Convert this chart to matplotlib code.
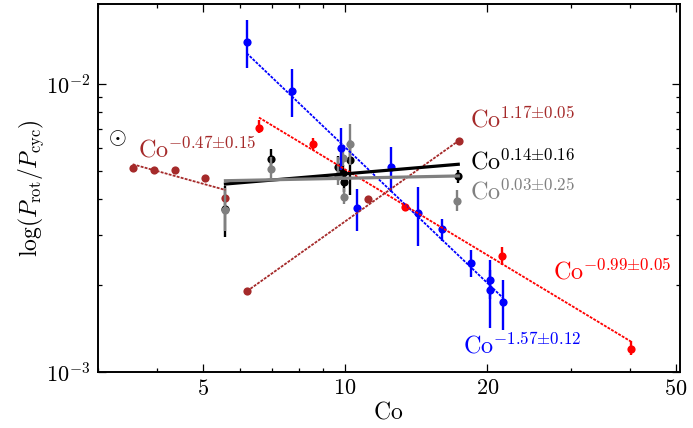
import matplotlib
matplotlib.use("Agg")
import matplotlib.pyplot as plt
from matplotlib.ticker import FixedLocator, FixedFormatter, LogLocator, NullFormatter

plt.rcParams['mathtext.fontset'] = 'cm'
plt.rcParams['font.family'] = ['cmr10', 'DejaVu Sans']
plt.rcParams['axes.formatter.use_mathtext'] = True

blue_x = [6.2, 7.71, 9.79, 10.59, 12.49, 14.25, 16.0, 18.45, 20.2, 20.25, 21.56]
blue_y = [.0140, .00946, .00600, .00371, .00515, .00357, .00314, .00239, .00209, .00193, .00175]
blue_hi = [.01668, .01127, .00703, .00432, .00604, .00439, .0034, .00265, .00245, .00226, .00209]
blue_lo = [.01136, .00768, .00503, .00309, .00422, .00274, .00285, .00214, .00179, .00142, .0014]
blue_fit_x = [6.2, 21.56]
blue_fit_y = [.01281, .00181]

red_x = [6.58, 8.54, 13.37, 21.5, 40.3]
red_y = [.00707, .00618, .00375, .00252, .0012]
red_hi = [.0075, .00649, .00384, .00272, .00128]
red_lo = [.00676, .0059, .00366, .00235, .00115]
red_fit_x = [6.58, 40.2]
red_fit_y = [.00766, .001276]

brown_x = [3.56, 3.94, 4.37, 5.06, 5.59, 6.21, 11.18, 17.4]
brown_y = [.0051, .00502, .00502, .00471, .00401, .00191, .00398, .00637]
brown1_fit_x = [3.56, 5.59]
brown1_fit_y = [.00527, .00429]
brown2_fit_x = [6.21, 17.4]
brown2_fit_y = [.00191, .00637]

black_x = [5.59, 6.97, 9.65, 9.89, 9.95, 10.25, 17.3]
black_y = [.00368, .00548, .00514, .00492, .00456, .00545, .00478]
black_hi = [.00442, .00595, .00562, .00523, .00503, .00639, .00503]
black_lo = [.00295, .00503, .00464, .0046, .00422, .00412, .00453]
black_fit_x = [5.59, 17.35]
black_fit_y = [.0045, .00527]

gray_x = [5.59, 6.97, 9.65, 9.89, 9.95, 10.23, 17.27]
gray_y = [.00367, .00506, .00479, .00553, .00404, .00622, .00393]
gray_hi = [.00435, .00558, .00558, .0059, .00435, .00726, .00429]
gray_lo = [.00309, .00472, .00446, .00519, .00383, .00523, .00362]
gray_fit_x = [5.59, 17.35]
gray_fit_y = [.00462, .0048]

x_major = [5, 10, 20, 50]
x_labels = ['$5$', '$10$', '$20$', '$50$']
x_minor = [3, 4, 6, 7, 8, 9, 30, 40]

fig = plt.figure(figsize=(6.93, 4.28), dpi=100)
ax = fig.add_axes([97.5/693, 1-372/428, 582/693, 368/428])
ax.set_xscale('log')
ax.set_yscale('log')
ax.set_xlim(3.0, 50.9)
ax.set_ylim(1e-3, 0.0190)


def errs(y, lo, hi):
    return [[a-b for a, b in zip(y, lo)], [b-a for a, b in zip(y, hi)]]


MS = 5.9


def pts(x, y, lo, hi, color, z):
    ax.errorbar(x, y, yerr=errs(y, lo, hi), fmt='o', color=color, ms=MS, mew=0,
                elinewidth=1.7, capsize=0, zorder=z)


DASH = (0, (1.6, 0.7))
pts(black_x, black_y, black_lo, black_hi, 'black', 3)
pts(gray_x, gray_y, gray_lo, gray_hi, 'gray', 3.2)
pts(red_x, red_y, red_lo, red_hi, 'red', 3.4)
ax.plot(brown_x, brown_y, 'o', color='brown', ms=MS, mew=0, zorder=3.1)
pts(blue_x, blue_y, blue_lo, blue_hi, 'blue', 3.6)

ax.plot(blue_fit_x, blue_fit_y, color='blue', lw=1.3, ls=DASH, zorder=4)
ax.plot(red_fit_x, red_fit_y, color='red', lw=1.3, ls=DASH, zorder=4)
ax.plot(brown1_fit_x, brown1_fit_y, color='brown', lw=1.3, ls=DASH, zorder=4)
ax.plot(brown2_fit_x, brown2_fit_y, color='brown', lw=1.3, ls=DASH, zorder=4)
ax.plot(black_fit_x, black_fit_y, color='black', lw=2.3, zorder=4.1)
ax.plot(gray_fit_x, gray_fit_y, color='gray', lw=2.3, zorder=4.2)

ax.xaxis.set_major_locator(FixedLocator(x_major))
ax.xaxis.set_major_formatter(FixedFormatter(x_labels))
ax.xaxis.set_minor_locator(FixedLocator(x_minor))
ax.xaxis.set_minor_formatter(NullFormatter())
ax.yaxis.set_minor_locator(LogLocator(base=10, subs=range(2, 10), numticks=10))
ax.yaxis.set_minor_formatter(NullFormatter())
ax.tick_params(which='both', direction='in', top=True, right=True, width=0.9, labelsize=16)
ax.tick_params(axis='x', which='both', pad=5)
ax.tick_params(axis='y', which='both', pad=5)
ax.tick_params(which='major', length=6)
ax.tick_params(which='minor', length=3)
for s in ax.spines.values():
    s.set_linewidth(1.4)

ax.set_xlabel(r'$\mathrm{Co}$', fontsize=17, labelpad=2)
ax.set_ylabel(r'$\log(P_{\rm rot}/P_{\rm cyc})$', fontsize=17, labelpad=0)


def label(px, py, s, color, size=17.4):
    ax.text((px-97.5)/582, 1-(py-4)/368, s, color=color, fontsize=size,
            transform=ax.transAxes, va='center', ha='left')


label(138, 149, r'$\mathrm{Co}^{-0.47{\pm}0.15}$', 'brown')
label(470, 119, r'$\mathrm{Co}^{1.17{\pm}0.05}$', 'brown')
label(470, 162, r'$\mathrm{Co}^{0.14{\pm}0.16}$', 'black')
label(470, 192, r'$\mathrm{Co}^{0.03{\pm}0.25}$', 'gray')
label(553, 272, r'$\mathrm{Co}^{-0.99{\pm}0.05}$', 'red')
label(463, 345, r'$\mathrm{Co}^{-1.57{\pm}0.12}$', 'blue')
label(108, 138, r'$\odot$', 'black', 16.6)

fig.savefig('out.png', dpi=100)
